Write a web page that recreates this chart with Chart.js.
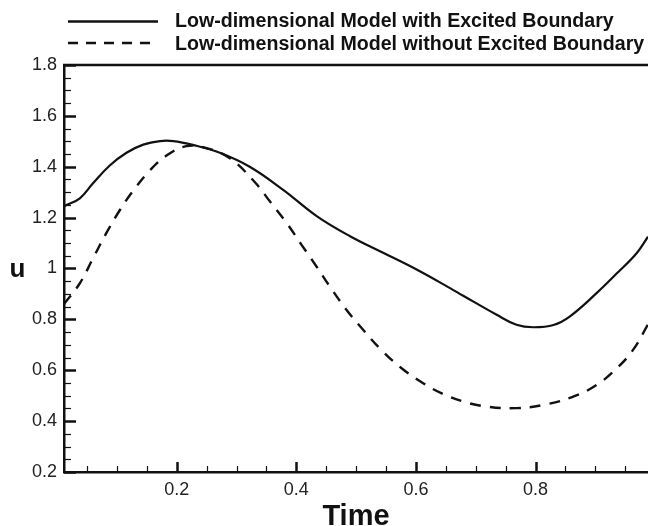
<!DOCTYPE html>
<html>
<head>
<meta charset="utf-8">
<script src="https://cdn.jsdelivr.net/npm/chart.js@4.4.1/dist/chart.umd.min.js"></script>
<style>
  html, body { margin: 0; padding: 0; background: #fff; overflow: hidden; }
  #wrap { width: 648px; height: 526px; }
</style>
</head>
<body>
<div id="wrap"><canvas id="c" width="648" height="526"></canvas></div>
<script>
// Series: velocity u over time for the two reduced models
const timeExcited = [0.0115, 0.038, 0.060, 0.088, 0.116, 0.144, 0.172, 0.194, 0.227, 0.272, 0.322, 0.378, 0.434, 0.489, 0.545, 0.601, 0.657, 0.679, 0.735, 0.768, 0.796, 0.830, 0.857, 0.902, 0.936, 0.969, 0.988];
const uExcited    = [1.245, 1.276, 1.335, 1.405, 1.455, 1.487, 1.501, 1.501, 1.486, 1.455, 1.400, 1.309, 1.206, 1.128, 1.062, 0.996, 0.923, 0.893, 0.818, 0.779, 0.769, 0.778, 0.811, 0.903, 0.981, 1.060, 1.125];

const timePlain = [0.0115, 0.038, 0.060, 0.082, 0.105, 0.127, 0.155, 0.183, 0.216, 0.250, 0.289, 0.330, 0.356, 0.384, 0.409, 0.434, 0.456, 0.484, 0.512, 0.542, 0.576, 0.612, 0.645, 0.679, 0.718, 0.768, 0.818, 0.863, 0.902, 0.936, 0.963, 0.988];
const uPlain    = [0.860, 0.942, 1.040, 1.138, 1.230, 1.305, 1.385, 1.444, 1.481, 1.473, 1.433, 1.341, 1.263, 1.178, 1.092, 1.007, 0.929, 0.837, 0.758, 0.680, 0.608, 0.549, 0.507, 0.477, 0.457, 0.451, 0.466, 0.496, 0.542, 0.608, 0.680, 0.780];

const seriesNames = ['Low-dimensional Model with Excited Boundary', 'Low-dimensional Model without Excited Boundary'];

// Axis ticks
const xTickValues = [0.2, 0.4, 0.6, 0.8];
const yTickValues = [0.2, 0.4, 0.6, 0.8, 1.0, 1.2, 1.4, 1.6, 1.8];
const xMinorStep = 0.05;
const yMinorStep = 0.05;
const xRange = [0.0115, 0.988];
const yRange = [0.2, 1.8];

const toPoints = (xs, ys) => xs.map((x, i) => ({ x: x, y: ys[i] }));

const INK = '#111';
const FONT = '"Liberation Sans", Arial, Helvetica, sans-serif';

// Inward tick marks, top frame line, legend and the upright "u" label
const framePlugin = {
  id: 'frame',
  afterDraw(chart) {
    const ctx = chart.ctx;
    const xs = chart.scales.x, ys = chart.scales.y;
    const a = chart.chartArea;
    ctx.save();
    ctx.strokeStyle = INK;
    ctx.lineCap = 'butt';

    // top frame
    ctx.lineWidth = 2.5;
    ctx.beginPath();
    ctx.moveTo(a.left - 1, a.top);
    ctx.lineTo(a.right, a.top);
    ctx.stroke();

    // x ticks (inward, upward from bottom axis)
    const eps = 1e-9;
    for (let v = Math.ceil(xRange[0] / xMinorStep) * xMinorStep; v <= xRange[1] + eps; v += xMinorStep) {
      const major = xTickValues.some(t => Math.abs(t - v) < 1e-6);
      const px = Math.round(xs.getPixelForValue(v)) + 0.5;
      ctx.lineWidth = major ? 2.5 : 1.2;
      ctx.beginPath();
      ctx.moveTo(px, a.bottom);
      ctx.lineTo(px, a.bottom - (major ? 10 : 6));
      ctx.stroke();
    }
    // y ticks (inward, rightward from left axis)
    for (let v = yRange[0]; v <= yRange[1] + eps; v += yMinorStep) {
      const major = yTickValues.some(t => Math.abs(t - v) < 1e-6);
      const py = Math.round(ys.getPixelForValue(v)) + 0.5;
      ctx.lineWidth = major ? 2.5 : 1.2;
      ctx.beginPath();
      ctx.moveTo(a.left, py);
      ctx.lineTo(a.left + (major ? 12 : 7), py);
      ctx.stroke();
    }

    // legend
    const rows = [
      { line: 21.5, text: 21.5, dash: [] },
      { line: 43, text: 44.5, dash: [10, 8] }
    ];
    rows.forEach((r, i) => {
      ctx.setLineDash(r.dash);
      ctx.lineWidth = 2.7;
      ctx.beginPath();
      ctx.moveTo(68, r.line);
      ctx.lineTo(158, r.line);
      ctx.stroke();
      ctx.setLineDash([]);
      ctx.fillStyle = INK;
      ctx.font = 'bold 19.6px ' + FONT;
      ctx.textAlign = 'left';
      ctx.textBaseline = 'middle';
      ctx.fillText(seriesNames[i], 175, r.text);
    });

    // y axis name, upright
    ctx.font = 'bold 26px ' + FONT;
    ctx.textAlign = 'center';
    ctx.textBaseline = 'alphabetic';
    ctx.fillText('u', 17.5, 277);
    ctx.restore();
  }
};

new Chart(document.getElementById('c'), {
  type: 'line',
  data: {
    datasets: [
      {
        label: seriesNames[0],
        data: toPoints(timeExcited, uExcited),
        borderColor: INK,
        borderWidth: 2.2,
        pointRadius: 0,
        tension: 0.4,
        fill: false
      },
      {
        label: seriesNames[1],
        data: toPoints(timePlain, uPlain),
        borderColor: INK,
        borderWidth: 2.4,
        borderDash: [11, 9],
        pointRadius: 0,
        tension: 0.4,
        fill: false
      }
    ]
  },
  options: {
    responsive: false,
    devicePixelRatio: 1,
    animation: false,
    layout: { padding: { top: 65, right: 0, left: 0, bottom: 0 } },
    plugins: { legend: { display: false }, tooltip: { enabled: false } },
    scales: {
      x: {
        type: 'linear',
        min: xRange[0],
        max: xRange[1],
        afterBuildTicks: s => { s.ticks = xTickValues.map(v => ({ value: v })); },
        afterFit: s => { s.height = 54; },
        grid: { display: false, drawTicks: false },
        border: { display: true, color: INK, width: 2.5 },
        ticks: {
          color: '#222',
          font: { family: FONT, size: 18 },
          padding: 7,
          maxRotation: 0,
          callback: v => String(v)
        },
        title: {
          display: true,
          text: 'Time',
          color: INK,
          font: { family: FONT, size: 29, weight: 'bold', lineHeight: 1 },
          padding: { top: 0, bottom: -5 }
        }
      },
      y: {
        type: 'linear',
        min: yRange[0],
        max: yRange[1],
        afterBuildTicks: s => { s.ticks = yTickValues.map(v => ({ value: v })); },
        afterFit: s => { s.width = 64; },
        grid: { display: false, drawTicks: false },
        border: { display: true, color: INK, width: 2.5 },
        ticks: {
          color: '#222',
          font: { family: FONT, size: 18 },
          padding: 7,
          callback: v => (Math.abs(v - 1) < 1e-9 ? '1' : v.toFixed(1))
        }
      }
    }
  },
  plugins: [framePlugin]
});
</script>
</body>
</html>
